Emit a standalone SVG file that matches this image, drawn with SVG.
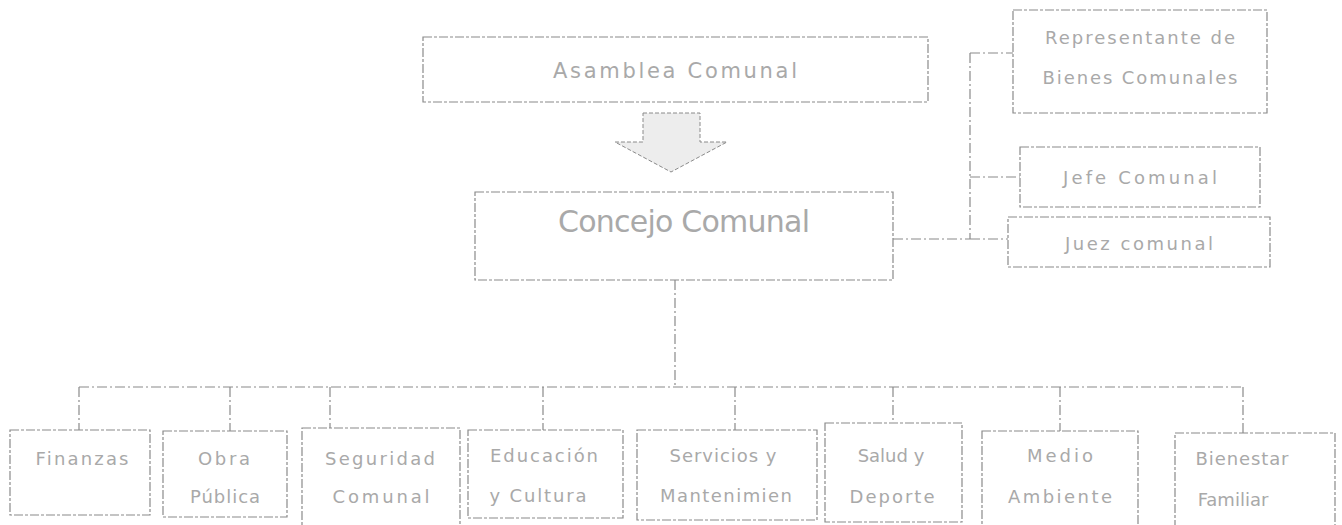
<svg xmlns="http://www.w3.org/2000/svg" width="1342" height="525" viewBox="0 0 1342 525">
<style>
.box{fill:none;stroke:#8a8a8a;stroke-width:1.2;stroke-dasharray:9 2 3 2}
.ln{fill:none;stroke:#8a8a8a;stroke-width:1.2;stroke-dasharray:10 3 2 3}
.t{font-family:"DejaVu Sans",sans-serif;fill:#a9a9a9;text-anchor:middle;font-size:18px}
.tb{font-size:21px}
.tc{font-size:30px}
</style>
<rect width="1342" height="525" fill="#ffffff"/>
<g id="connectors">
<polyline class="ln" points="893,239 970,239"/>
<polyline class="ln" points="970,53 970,239"/>
<polyline class="ln" points="970,53 1013,53"/>
<polyline class="ln" points="970,177 1020,177"/>
<polyline class="ln" points="970,239 1008,239"/>
<polyline class="ln" points="675,280 675,387"/>
<polyline class="ln" points="79,387 1243,387"/>
<polyline class="ln" points="79,387 79,430"/>
<polyline class="ln" points="230,387 230,431"/>
<polyline class="ln" points="330,387 330,428"/>
<polyline class="ln" points="543,387 543,430"/>
<polyline class="ln" points="735,387 735,430"/>
<polyline class="ln" points="893,387 893,423"/>
<polyline class="ln" points="1060,387 1060,431"/>
<polyline class="ln" points="1243,387 1243,433"/>
</g>
<g id="arrow">
<polygon points="643,113 700,113 700,142 727,142 671,172 615,142 643,142" fill="#ededed" stroke="#8a8a8a" stroke-width="1" stroke-dasharray="4 2"/>
</g>
<g id="asamblea">
<rect class="box" x="423" y="37" width="505" height="65"/>
<text class="t tb" x="675" y="78" textLength="244" lengthAdjust="spacing">Asamblea Comunal</text>
</g>
<g id="concejo">
<rect class="box" x="475" y="192" width="418" height="88"/>
<text class="t tc" x="684" y="232" textLength="252" lengthAdjust="spacing">Concejo Comunal</text>
</g>
<g id="representante">
<rect class="box" x="1013" y="10" width="254" height="103"/>
<text class="t" x="1140" y="44" textLength="190" lengthAdjust="spacing">Representante de</text>
<text class="t" x="1140" y="84" textLength="195" lengthAdjust="spacing">Bienes Comunales</text>
</g>
<g id="jefe">
<rect class="box" x="1020" y="147" width="240" height="60"/>
<text class="t" x="1140" y="184" textLength="154" lengthAdjust="spacing">Jefe  Comunal</text>
</g>
<g id="juez">
<rect class="box" x="1008" y="217" width="262" height="50"/>
<text class="t" x="1139" y="250" textLength="148" lengthAdjust="spacing">Juez comunal</text>
</g>
<g id="finanzas">
<rect class="box" x="10" y="430" width="140" height="85"/>
<text class="t" x="82" y="465" textLength="93" lengthAdjust="spacing">Finanzas</text>
</g>
<g id="obra">
<rect class="box" x="163" y="431" width="124" height="86"/>
<text class="t" x="224" y="465" textLength="52" lengthAdjust="spacing">Obra</text>
<text class="t" x="225" y="503" textLength="70" lengthAdjust="spacing">Pública</text>
</g>
<g id="seguridad">
<rect class="box" x="302" y="428" width="158" height="120"/>
<text class="t" x="380" y="465" textLength="110" lengthAdjust="spacing">Seguridad</text>
<text class="t" x="381" y="503" textLength="97" lengthAdjust="spacing">Comunal</text>
</g>
<g id="educacion">
<rect class="box" x="468" y="430" width="155" height="88"/>
<text class="t" x="544" y="462" textLength="108" lengthAdjust="spacing">Educación</text>
<text class="t" x="538" y="502" textLength="97" lengthAdjust="spacing">y Cultura</text>
</g>
<g id="servicios">
<rect class="box" x="637" y="430" width="180" height="90"/>
<text class="t" x="723" y="462" textLength="107" lengthAdjust="spacing">Servicios y</text>
<text class="t" x="726" y="502" textLength="132" lengthAdjust="spacing">Mantenimien</text>
</g>
<g id="salud">
<rect class="box" x="825" y="423" width="137" height="99"/>
<text class="t" x="891" y="462">Salud y</text>
<text class="t" x="892" y="503" textLength="85" lengthAdjust="spacing">Deporte</text>
</g>
<g id="medio">
<rect class="box" x="982" y="431" width="156" height="120"/>
<text class="t" x="1060" y="462" textLength="66" lengthAdjust="spacing">Medio</text>
<text class="t" x="1060" y="503" textLength="104" lengthAdjust="spacing">Ambiente</text>
</g>
<g id="bienestar">
<rect class="box" x="1175" y="433" width="160" height="120"/>
<text class="t" x="1242" y="465" textLength="93" lengthAdjust="spacing">Bienestar</text>
<text class="t" x="1233" y="506">Familiar</text>
</g>
</svg>
